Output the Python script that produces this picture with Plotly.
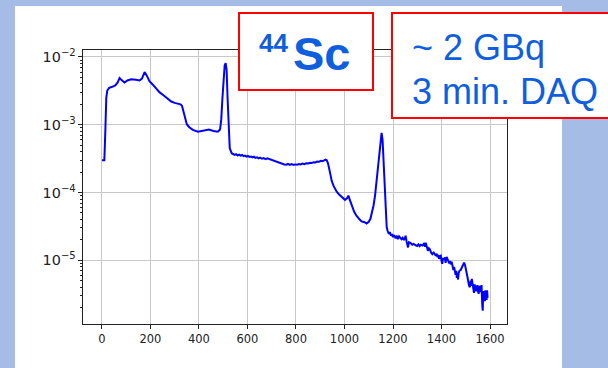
import plotly.graph_objects as go

# ---- data ----
energy = [0, 10, 14, 18, 22, 30, 40, 55, 65, 73, 80, 93, 105, 121, 140, 155, 165, 176, 185, 196,
          210, 225, 238, 255, 270, 286, 300, 315, 324, 330, 336, 342, 350, 360, 375, 396, 415, 430,
          441, 460, 478, 487, 492, 497, 502, 506, 510, 514, 518, 522, 527, 535,
          541, 547, 553, 560, 566, 572, 578, 584, 590, 596, 602, 608, 615, 621, 627, 633, 640, 646,
          652, 660, 667, 675, 682, 690, 696, 703, 710, 717, 724, 731, 738, 745, 752, 760, 767, 775,
          782, 790, 797, 805, 812, 820, 827, 835, 842, 850, 858, 865, 872, 880, 887, 895, 902, 910,
          916, 922, 927, 932, 940, 947, 955, 962, 968, 977, 985, 993, 1002,
          1010, 1016, 1022, 1030, 1040, 1050, 1060, 1068, 1075, 1083, 1091, 1100, 1107, 1112, 1120,
          1126, 1133, 1140, 1146, 1150, 1153, 1157, 1161, 1165, 1170, 1174, 1178, 1183, 1187, 1192,
          1196, 1200, 1205, 1211, 1216, 1220, 1225, 1230, 1235, 1240, 1245, 1249, 1252, 1256, 1262,
          1266, 1273, 1279, 1285, 1292, 1300, 1305, 1310, 1315, 1321, 1327, 1332, 1335, 1340, 1344,
          1348, 1352, 1357, 1362, 1368, 1376, 1380, 1383, 1387, 1390, 1394, 1397, 1400, 1403, 1407,
          1410, 1414, 1417, 1421, 1427, 1432, 1435, 1438, 1442, 1445, 1449, 1452, 1455, 1458, 1461,
          1463, 1466, 1468, 1471, 1474, 1479, 1486, 1493, 1497, 1500, 1504, 1509, 1513, 1517, 1520,
          1522, 1525, 1527, 1531, 1534, 1537, 1540, 1543, 1545, 1548, 1550, 1553, 1555, 1558, 1562,
          1565, 1568, 1570, 1572, 1575, 1579, 1581, 1583, 1586, 1588, 1590]
counts = [3.0e-4, 3.0e-4, 8e-4, 2.5e-3, 3.2e-3, 3.5e-3, 3.6e-3, 3.8e-3, 4.2e-3, 4.9e-3, 4.6e-3,
          4.2e-3, 4.5e-3, 4.7e-3, 4.6e-3, 4.5e-3, 4.8e-3, 6.0e-3, 5.3e-3, 4.4e-3,
          3.9e-3, 3.4e-3, 3.0e-3, 2.7e-3, 2.45e-3, 2.2e-3, 2.1e-3, 2.05e-3, 2.0e-3, 1.9e-3, 1.6e-3,
          1.25e-3, 1.02e-3, 9.2e-4, 8.4e-4, 7.9e-4, 8.1e-4, 8.4e-4,
          8.5e-4, 8.1e-4, 7.9e-4, 8.5e-4, 1.2e-3, 2.5e-3, 5.0e-3, 7.5e-3, 8.1e-3, 6.5e-3, 2.5e-3,
          8e-4, 4.5e-4, 3.8e-4,
          3.72e-4, 3.6e-4, 3.68e-4, 3.52e-4, 3.62e-4, 3.5e-4, 3.58e-4, 3.44e-4, 3.5e-4, 3.38e-4,
          3.46e-4, 3.35e-4, 3.4e-4, 3.3e-4, 3.37e-4, 3.24e-4, 3.3e-4, 3.2e-4,
          3.27e-4, 3.15e-4, 3.22e-4, 3.1e-4, 3.2e-4, 3.12e-4, 3.05e-4, 2.98e-4, 2.92e-4, 2.85e-4,
          2.8e-4, 2.74e-4, 2.7e-4, 2.66e-4, 2.6e-4, 2.58e-4, 2.64e-4, 2.56e-4,
          2.62e-4, 2.55e-4, 2.6e-4, 2.58e-4, 2.64e-4, 2.6e-4, 2.67e-4, 2.62e-4, 2.7e-4, 2.68e-4,
          2.75e-4, 2.72e-4, 2.8e-4, 2.78e-4, 2.86e-4, 2.84e-4, 2.93e-4, 2.9e-4,
          2.98e-4, 3.05e-4, 3.0e-4, 2.7e-4, 2.0e-4, 1.5e-4, 1.25e-4, 1.12e-4, 1.03e-4, 9.4e-5,
          8.8e-5, 8.2e-5, 7.8e-5,
          8.2e-5, 9.0e-5, 7.8e-5, 6.3e-5, 5.2e-5, 4.5e-5, 4.0e-5, 3.8e-5, 3.7e-5, 3.65e-5, 3.5e-5,
          3.7e-5, 4.1e-5, 4.8e-5, 6.5e-5,
          9e-5, 1.6e-4, 3.0e-4, 5.5e-4, 7.2e-4, 7.6e-4, 6.0e-4, 3.0e-4, 1.2e-4, 4.5e-5, 3.1e-5,
          2.7e-5, 2.45e-5, 2.6e-5, 2.3e-5,
          2.45e-5, 2.2e-5, 2.35e-5, 2.1e-5, 2.3e-5, 2.05e-5, 2.25e-5, 2.1e-5, 2.05e-5, 2.15e-5,
          2.0e-5, 2.12e-5, 2.3e-5, 1.9e-5, 1.55e-5,
          1.85e-5, 1.8e-5, 1.7e-5, 1.75e-5, 1.68e-5, 1.63e-5, 1.72e-5, 1.62e-5, 1.7e-5, 1.65e-5,
          1.75e-5, 1.6e-5, 1.82e-5, 1.5e-5, 1.38e-5,
          1.5e-5, 1.45e-5, 1.3e-5, 1.23e-5, 1.3e-5, 1.17e-5, 1.25e-5, 1.12e-5, 1.2e-5, 1.05e-5,
          1.15e-5, 1.17e-5, 9.8e-6, 8.9e-6, 1.08e-5,
          1.02e-5, 1.1e-5, 9.2e-6, 1.12e-5, 9.5e-6, 9.0e-6, 9.8e-6, 8.7e-6, 9.5e-6, 8.2e-6,
          7.2e-6, 8.0e-6, 6.8e-6, 6.1e-6, 7.0e-6,
          5.5e-6, 6.6e-6, 5.2e-6, 6.5e-6, 7.0e-6, 7.2e-6, 8.0e-6, 9.2e-6, 8.5e-6, 7.7e-6, 6.2e-6,
          5.2e-6, 4.3e-6, 4.0e-6, 5.0e-6,
          4.2e-6, 5.3e-6, 4.7e-6, 3.6e-6, 3.3e-6, 4.4e-6, 3.9e-6, 3.5e-6, 3.7e-6, 4.3e-6, 3.6e-6,
          3.2e-6, 3.9e-6, 4.2e-6, 3.4e-6,
          4.3e-6, 2.2e-6, 1.8e-6, 3.5e-6, 3.0e-6, 2.5e-6, 3.6e-6, 3.3e-6, 2.6e-6, 3.6e-6, 2.8e-6]

x_ticks = [0, 200, 400, 600, 800, 1000, 1200, 1400, 1600]
label_isotope_mass = "44"
label_isotope = "Sc"
label_activity = "~ 2 GBq"
label_daq = "3 min. DAQ"

# ---- geometry helpers (pixels -> paper) ----
W, H = 608, 368
L, R, T, B = 83, 101, 50, 44
PW, PH = W - L - R, H - T - B


def px(x):
    return (x - L) / PW


def py(y):
    return (H - B - y) / PH


TEXT_BLUE = "rgb(14,94,222)"

fig = go.Figure()
fig.add_trace(go.Scatter(x=energy, y=counts, mode="lines",
                         line=dict(color="#0000ff", width=2), hoverinfo="skip"))

shapes = [
    # white slide panel
    dict(type="rect", xref="paper", yref="paper", x0=px(15), x1=px(562), y0=py(368), y1=py(6),
         fillcolor="white", line=dict(width=0), layer="below"),
    # red boxes
    dict(type="rect", xref="paper", yref="paper", x0=px(239), x1=px(373), y0=py(90), y1=py(13),
         fillcolor="white", line=dict(color="#ff0000", width=2), layer="above"),
    dict(type="rect", xref="paper", yref="paper", x0=px(392), x1=px(640), y0=py(118), y1=py(13),
         fillcolor="white", line=dict(color="#ff0000", width=2), layer="above"),
]

annotations = [
    dict(text="<b>" + label_isotope_mass + "</b>", xref="paper", yref="paper", x=px(257), y=py(43),
         xanchor="left", yanchor="middle", showarrow=False,
         font=dict(family="Liberation Sans", size=26, color=TEXT_BLUE)),
    dict(text="<b>" + label_isotope + "</b>", xref="paper", yref="paper", x=px(291), y=py(54),
         xanchor="left", yanchor="middle", showarrow=False,
         font=dict(family="Liberation Sans", size=47, color=TEXT_BLUE)),
    dict(text=label_activity, xref="paper", yref="paper", x=px(410), y=py(48),
         xanchor="left", yanchor="middle", showarrow=False,
         font=dict(family="Liberation Sans", size=36, color=TEXT_BLUE)),
    dict(text=label_daq, xref="paper", yref="paper", x=px(410), y=py(91),
         xanchor="left", yanchor="middle", showarrow=False,
         font=dict(family="Liberation Sans", size=36, color=TEXT_BLUE)),
]

fig.update_layout(
    width=W, height=H,
    margin=dict(l=L, r=R, t=T, b=B, pad=0),
    paper_bgcolor="rgb(165,189,230)",
    plot_bgcolor="white",
    showlegend=False,
    shapes=shapes,
    annotations=annotations,
    font=dict(family="DejaVu Sans", size=11, color="#222222"),
)
fig.update_xaxes(range=[-78, 1670], tickvals=x_ticks, ticks="outside", ticklen=4,
                 tickcolor="#222222", showline=True, mirror=True, linecolor="#222222", linewidth=1,
                 showgrid=True, gridcolor="#c8c8c8", gridwidth=1, zeroline=False,
                 tickfont=dict(family="DejaVu Sans", size=11.5, color="#222222"))
fig.update_yaxes(type="log", range=[-5.94, -1.897], dtick=1, exponentformat="power",
                 ticks="outside", ticklen=4, tickcolor="#222222",
                 showline=True, mirror=True, linecolor="#222222", linewidth=1,
                 showgrid=True, gridcolor="#c8c8c8", gridwidth=1, zeroline=False,
                 minor=dict(ticks="outside", ticklen=2, tickcolor="#222222", showgrid=False, dtick="D1"),
                 tickfont=dict(family="DejaVu Sans", size=11.5, color="#222222"))

fig.write_html("out.html", config={"displayModeBar": False})
